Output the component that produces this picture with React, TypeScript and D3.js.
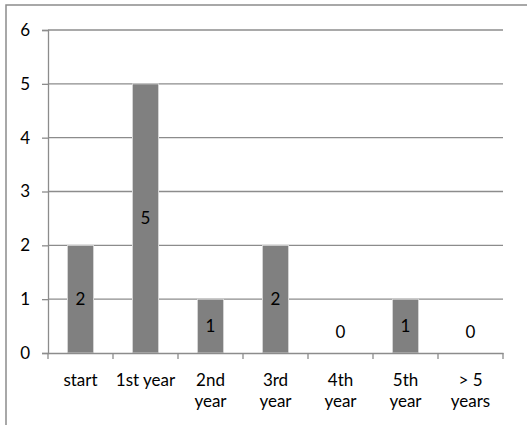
import React, { useEffect, useRef } from 'react';
import * as d3 from 'd3';

const categories = ['start', '1st year', '2nd\nyear', '3rd\nyear', '4th\nyear', '5th\nyear', '> 5\nyears'];
const counts = [2, 5, 1, 2, 0, 1, 0];
const yTicks = [0, 1, 2, 3, 4, 5, 6];

const App: React.FC = () => {
  const svgRef = useRef<SVGSVGElement>(null);

  useEffect(() => {
    if (!svgRef.current) return;

    const width = 527;
    const height = 425;
    const left = 48;
    const right = 503;
    const top = 30;
    const bottom = 353;
    const font = 'Lato, Carlito, "Liberation Sans", sans-serif';
    const fontSize = '17px';

    const svg = d3.select(svgRef.current);
    svg.selectAll('*').remove();
    svg.attr('width', width).attr('height', height);

    svg.append('rect')
      .attr('width', width)
      .attr('height', height)
      .attr('fill', '#ffffff');

    // outer chart frame (only top/left edges fall inside the picture)
    svg.append('rect')
      .attr('x', 6)
      .attr('y', 5)
      .attr('width', width + 20)
      .attr('height', height + 20)
      .attr('fill', 'none')
      .attr('stroke', '#8c8c8c')
      .attr('stroke-width', 1.5);

    const x = d3.scaleBand<string>()
      .domain(categories)
      .range([left, right])
      .padding(0);

    const y = d3.scaleLinear()
      .domain([0, 6])
      .range([bottom, top]);

    // gridlines
    svg.append('g')
      .selectAll('line')
      .data(yTicks.filter(t => t > 0))
      .enter().append('line')
      .attr('x1', left)
      .attr('x2', right)
      .attr('y1', d => y(d))
      .attr('y2', d => y(d))
      .attr('stroke', '#8c8c8c')
      .attr('stroke-width', 1.3);

    // Y Axis
    const yAxis = svg.append('g')
      .attr('transform', `translate(${left},0)`)
      .call(d3.axisLeft(y).tickValues(yTicks).tickSize(6).tickPadding(12).tickFormat(d3.format('d')));
    yAxis.select('.domain').attr('stroke', '#8c8c8c').attr('stroke-width', 1.3);
    yAxis.selectAll('line').attr('stroke', '#8c8c8c').attr('stroke-width', 1.3);
    yAxis.selectAll('text')
      .attr('fill', '#000')
      .style('font-family', font)
      .style('font-size', fontSize);

    // bars
    const barW = x.bandwidth() * 0.4;
    svg.append('g')
      .selectAll('rect')
      .data(counts)
      .enter().append('rect')
      .attr('x', (d, i) => (x(categories[i]) || 0) + (x.bandwidth() - barW) / 2)
      .attr('y', d => y(d))
      .attr('width', barW)
      .attr('height', d => bottom - y(d))
      .attr('fill', '#808080')
      .attr('stroke', '#d4d4d4')
      .attr('stroke-width', 1);

    // X Axis
    const xAxis = svg.append('g')
      .attr('transform', `translate(0,${bottom})`)
      .call(d3.axisBottom(x).tickValues([]).tickSizeOuter(0));
    xAxis.select('.domain').attr('stroke', '#8c8c8c').attr('stroke-width', 1.3);

    svg.append('g')
      .selectAll('line')
      .data(d3.range(categories.length + 1))
      .enter().append('line')
      .attr('x1', i => left + i * x.step())
      .attr('x2', i => left + i * x.step())
      .attr('y1', bottom)
      .attr('y2', bottom + 6)
      .attr('stroke', '#8c8c8c')
      .attr('stroke-width', 1.3);

    // category labels
    const labels = svg.append('g')
      .selectAll('text')
      .data(categories)
      .enter().append('text')
      .attr('x', d => (x(d) || 0) + x.bandwidth() / 2)
      .attr('y', 386)
      .attr('text-anchor', 'middle')
      .style('font-family', font)
      .style('font-size', fontSize)
      .attr('fill', '#000');
    labels.each(function (d) {
      const t = d3.select(this);
      const cx = (x(d) || 0) + x.bandwidth() / 2;
      d.split('\n').forEach((line, k) => {
        t.append('tspan')
          .attr('x', cx)
          .attr('dy', k === 0 ? 0 : 21)
          .text(line);
      });
    });

    // value labels
    svg.append('g')
      .selectAll('text')
      .data(counts)
      .enter().append('text')
      .attr('x', (d, i) => (x(categories[i]) || 0) + x.bandwidth() / 2)
      .attr('y', d => (d > 0 ? y(d / 2) : y(0) - 21))
      .attr('dy', '0.35em')
      .attr('text-anchor', 'middle')
      .style('font-family', font)
      .style('font-size', fontSize)
      .attr('fill', '#000')
      .text(d => d);
  }, []);

  return (
    <div style={{ position: 'absolute', left: 0, top: 0 }}>
      <svg ref={svgRef} style={{ display: 'block' }}></svg>
    </div>
  );
};

export default App;
